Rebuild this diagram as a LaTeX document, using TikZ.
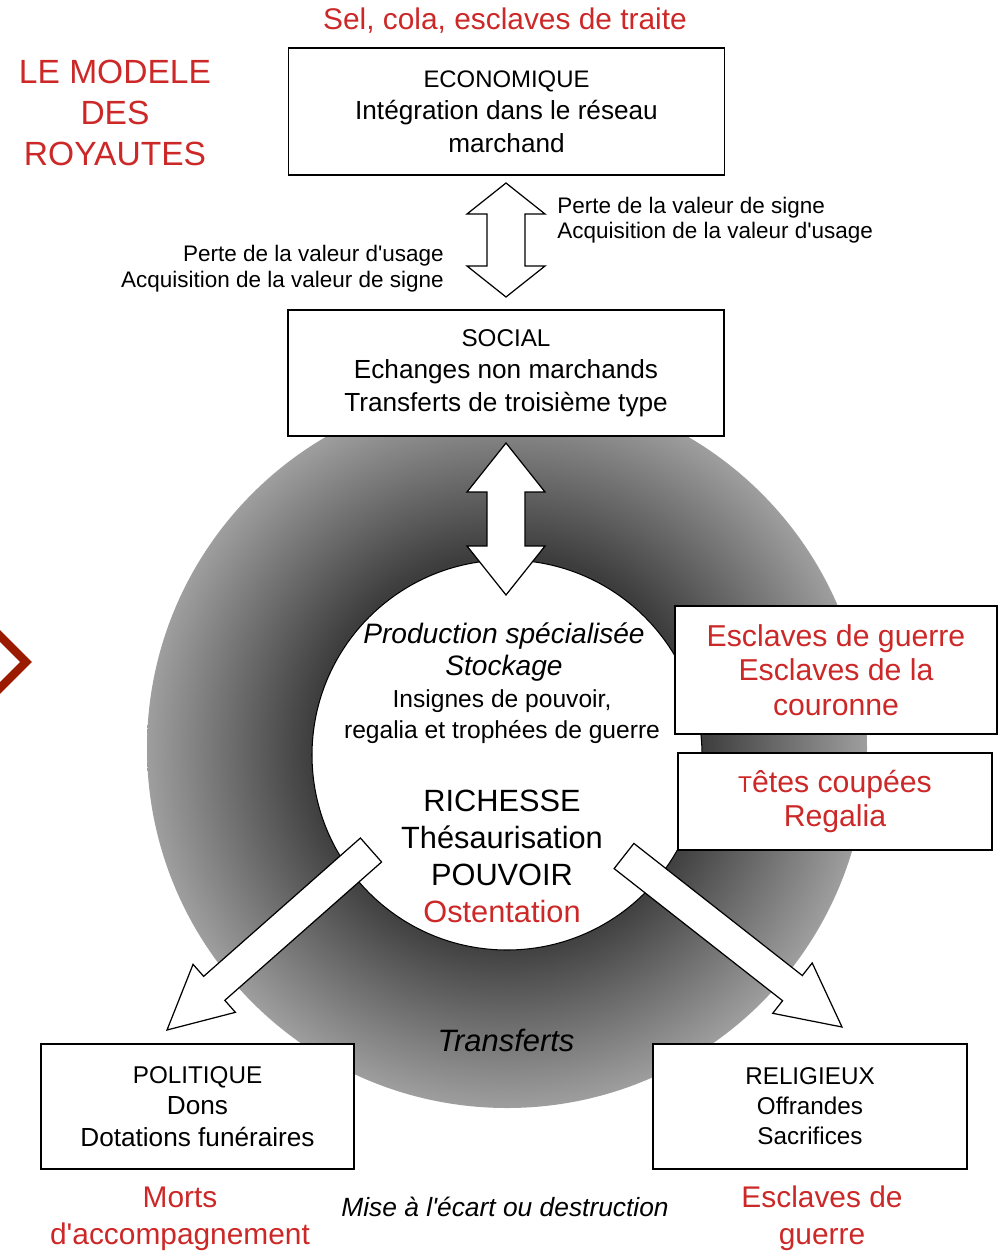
\documentclass[tikz,border=0pt]{standalone}
\usepackage{fontspec}
\setmainfont{Liberation Sans}[Ligatures=TeXOff]
\usetikzlibrary{calc}
\definecolor{TitleRed}{RGB}{204,40,40}
\definecolor{DarkRed}{RGB}{155,27,0}
\pgfdeclareradialshading{ringshade}{\pgfpoint{0bp}{0bp}}{color(0bp)=(black!76); color(13.5bp)=(black!76); color(25bp)=(black!38); color(50bp)=(black!38)}
\newcommand{\fsz}[2]{\fontsize{#1}{#2}\selectfont}
% fleche simple : queue, pointe
\newcommand{\blockarrow}[2]{%
	\coordinate (hb) at ($(#2)!1.26cm!(#1)$);
	\draw[blockarrow] ($(#1)!0.32cm!90:(#2)$) -- ($(hb)!0.32cm!-90:(#1)$) -- ($(hb)!0.64cm!-90:(#1)$) -- (#2)
		-- ($(hb)!0.64cm!90:(#1)$) -- ($(hb)!0.32cm!90:(#1)$) -- ($(#1)!0.32cm!-90:(#2)$) -- cycle;}
% fleche double : bout, bout, demi-tige, demi-tete, longueur tete
\newcommand{\dblockarrow}[5]{%
	\coordinate (ha) at ($(#1)!#5!(#2)$);
	\coordinate (hc) at ($(#2)!#5!(#1)$);
	\draw[blockarrow] (#1) -- ($(ha)!#4!90:(#2)$) -- ($(ha)!#3!90:(#2)$) -- ($(hc)!#3!-90:(#1)$) -- ($(hc)!#4!-90:(#1)$) -- (#2)
		-- ($(hc)!#4!90:(#1)$) -- ($(hc)!#3!90:(#1)$) -- ($(ha)!#3!-90:(#2)$) -- ($(ha)!#4!-90:(#2)$) -- cycle;}
\tikzset{
	box/.style={draw, fill=white, line width=0.8pt, align=center, inner sep=0pt},
	blockarrow/.style={draw, fill=white, line width=0.7pt, line join=miter},
	txt/.style={align=center, inner sep=0pt},
	redtxt/.style={txt, text=TitleRed}
}

\begin{document}
\begin{tikzpicture}[x=0.02cm, y=-0.02cm]
	\useasboundingbox (0,0) rectangle (1003,1253);
	
	% anneau des transferts
	\shade[shading=ringshade] (507,748) circle (360);
	\draw[fill=white, line width=0.6pt] (507,755) circle (195);
	
	% chevron de bord
	\draw[DarkRed, line width=4.8pt, miter limit=10] (-10,626) -- (26,662) -- (-10,698);
	
	% titre
	\node[redtxt, font=\fsz{19.1}{23.2}] (titre) at (115,113) {LE MODELE\\DES\\ROYAUTES};
	\node[redtxt, font=\fsz{17}{20}] (sel) at (505,21) {Sel, cola, esclaves de traite};
	
	% niveaux economique et social
	\node[box, minimum width=8.72cm, minimum height=2.54cm, font=\fsz{14.9}{18.4}] (eco) at (506.5,111.5)
		{{\fsz{13.6}{18.4}ECONOMIQUE}\\Intégration dans le réseau\\marchand};
	\node[box, minimum width=8.72cm, minimum height=2.52cm, font=\fsz{14.9}{18.4}] (social) at (506,373)
		{{\fsz{13.8}{18.4}SOCIAL}\\Echanges non marchands\\Transferts de troisième type};
	
	% fleches doubles
	\coordinate (eco-s) at (506,183);
	\coordinate (soc-n) at (506,297);
	\dblockarrow{eco-s}{soc-n}{0.38cm}{0.78cm}{0.62cm}
	\coordinate (soc-s) at (506,443);
	\coordinate (ctr-n) at (506,595);
	\dblockarrow{soc-s}{ctr-n}{0.38cm}{0.78cm}{0.98cm}
	
	\node[txt, anchor=east, align=right, font=\fsz{12.8}{14.5}] (usage) at (444,268.5)
		{Perte de la valeur d'usage\\Acquisition de la valeur de signe};
	\node[txt, anchor=west, align=left, font=\fsz{12.8}{14.5}] (signe) at (557,220)
		{Perte de la valeur de signe\\Acquisition de la valeur d'usage};
	
	% fleches vers politique et religieux
	\coordinate (pol-a) at (371,850);
	\coordinate (pol-b) at (167,1030);
	\blockarrow{pol-a}{pol-b}
	\coordinate (rel-a) at (624,856);
	\coordinate (rel-b) at (842,1027);
	\blockarrow{rel-a}{rel-b}
	
	% centre
	\node[txt, font=\itshape\fsz{16}{18.7}] (prod) at (504,652) {Production spécialisée\\Stockage};
	\node[txt, font=\fsz{14}{17.6}] (insignes) at (502,716.5) {Insignes de pouvoir,\\regalia et trophées de guerre};
	\node[txt, font=\fsz{17.5}{21}] (richesse) at (502,856.5)
		{RICHESSE\\Thésaurisation\\POUVOIR\\\textcolor{TitleRed}{Ostentation}};
	
	% encadres rouges
	\node[box, text=TitleRed, minimum width=6.44cm, minimum height=2.56cm, font=\fsz{17.2}{19.8}] (guerre) at (836,670)
		{Esclaves de guerre\\Esclaves de la\\couronne};
	\node[box, text=TitleRed, minimum width=6.28cm, minimum height=1.94cm, font=\fsz{17.2}{19.8}] (tetes) at (835,801.5)
		{{\fsz{13}{19.8}T}êtes coupées\\Regalia};
	
	% niveaux politique et religieux
	\node[txt, font=\itshape\fsz{17.6}{20}] (transferts) at (506,1040) {Transferts};
	\node[box, minimum width=6.26cm, minimum height=2.5cm, font=\fsz{14.9}{17.9}] (pol) at (197.5,1106.5)
		{{\fsz{13.8}{17.9}POLITIQUE}\\Dons\\Dotations funéraires};
	\node[box, minimum width=6.28cm, minimum height=2.5cm, font=\fsz{13.8}{17}] (rel) at (810,1106.5)
		{RELIGIEUX\\Offrandes\\Sacrifices};
	
	\node[redtxt, font=\fsz{17}{21}] (morts) at (180,1218.5) {Morts\\d'accompagnement};
	\node[txt, font=\itshape\fsz{15}{18}] (ecart) at (505,1207) {Mise à l'écart ou destruction};
	\node[redtxt, font=\fsz{17}{21}] (sacrif) at (822,1218.5) {Esclaves de\\guerre};
\end{tikzpicture}
\end{document}
